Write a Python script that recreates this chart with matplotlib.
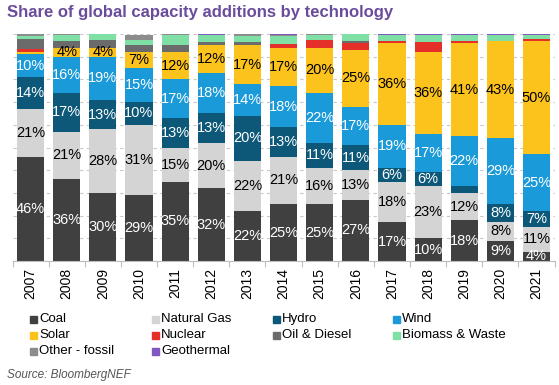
import matplotlib
matplotlib.use("Agg")
import matplotlib.pyplot as plt
from matplotlib.patches import Rectangle
import numpy as np

plt.rcParams['font.family'] = ['Liberation Sans', 'DejaVu Sans']

years = ["2007", "2008", "2009", "2010", "2011", "2012", "2013", "2014",
         "2015", "2016", "2017", "2018", "2019", "2020", "2021"]

coal    = [46, 36, 30, 29, 35, 32, 22, 25, 25, 27, 17, 10, 18, 9, 4]
gas     = [21, 21, 28, 31, 15, 20, 22, 21, 16, 13, 18, 23, 12, 8, 11]
hydro   = [14, 17, 13, 10, 13, 13, 20, 13, 11, 11, 6, 6, 3, 8, 7]
wind    = [10, 16, 19, 15, 17, 18, 14, 18, 22, 17, 19, 17, 22, 29, 25]
solar   = [1.2, 4, 4, 7, 12, 12, 17, 17, 20, 25, 36, 36, 41, 43, 50]
nuclear = [1.2, 0, 0, 0, 0, 0, 0, 1.5, 3.5, 3, 1, 4.5, 1, 0, 0.6]
oil     = [4.3, 3, 3.5, 3, 3, 1.5, 1.5, 0, 0, 1, 0, 0, 0, 0, 0]
biomass = [1.3, 2.5, 2.5, 2.5, 4.5, 3, 2.5, 3.5, 2, 3, 2.5, 3, 2.5, 2.7, 2.1]
other   = [1.0, 0.5, 0, 2, 0.5, 0, 1, 0.5, 0.5, 0, 0, 0, 0, 0, 0]
geo     = [0, 0, 0, 0, 0, 0.5, 0, 0.5, 0, 0, 0.5, 0.5, 0.5, 0.3, 0.3]

series_names = ["Coal", "Natural Gas", "Hydro", "Wind", "Solar", "Nuclear",
                "Oil & Diesel", "Biomass & Waste", "Other - fossil", "Geothermal"]
series_vals = [coal, gas, hydro, wind, solar, nuclear, oil, biomass, other, geo]
colors = ["#404040", "#d4d4d4", "#0d5878", "#1a9ad8", "#fcc31c", "#e5302a",
          "#6b6b6b", "#7fe0a6", "#8c8c8c", "#8158c0"]
label_colors = ["white", "black", "white", "white", "black",
                None, None, None, None, None]

fig = plt.figure(figsize=(5.59, 3.85), dpi=100)
ax = fig.add_axes([12.5/559, 1-261/385, (554.6-12.5)/559, (261-34)/385])

x = np.arange(len(years))
bottom = np.zeros(len(years))
for name, vals, col, lc in zip(series_names, series_vals, colors, label_colors):
    v = np.array(vals, dtype=float)
    ax.bar(x, v, bottom=bottom, width=0.75, color=col, zorder=2)
    if lc is not None:
        for i, val in enumerate(v):
            if val >= 4:
                ax.text(x[i], bottom[i] + val/2, f"{val:.0f}%", ha="center",
                        va="center", color=lc, fontsize=10.5, zorder=3,
                        clip_on=True)
    bottom += v

ax.set_xlim(-0.5, len(years) - 0.5)
ax.set_ylim(0, 100)
ax.set_yticks(np.arange(0, 101, 10))
ax.yaxis.grid(True, linestyle=(0, (3, 3)), color="#c8c8c8", linewidth=0.8, zorder=0)
ax.tick_params(axis="y", left=False, labelleft=False)
ax.set_xticks(x)
ax.set_xticklabels(years, rotation=90, fontsize=10)
ax.tick_params(axis="x", which="major", length=0, pad=5)
ax.set_xticks(np.arange(-0.5, len(years), 1), minor=True)
ax.tick_params(axis="x", which="minor", length=4, color="#bdbdbd", width=0.8)
for s in ["top", "right", "left"]:
    ax.spines[s].set_visible(False)
ax.spines["bottom"].set_color("#bdbdbd")
ax.spines["bottom"].set_linewidth(0.8)

fig.text(7/559, 1-13/385, "Share of global capacity additions by technology",
         fontsize=12, fontweight="bold", color="#6a4c9c", va="center", ha="left")

# legend
col_x = [30, 152, 273, 393]
row_y = [319, 335, 351]
for k, (name, col) in enumerate(zip(series_names, colors)):
    r, c = divmod(k, 4)
    px, py = col_x[c], row_y[r]
    fig.patches.append(Rectangle((px/559, 1-(py+3.5)/385), 7/559, 7/385,
                                 transform=fig.transFigure, color=col))
    fig.text((px+9)/559, 1-py/385, name, fontsize=9.5, va="center", ha="left")

fig.text(7/559, 1-375/385, "Source: BloombergNEF", fontsize=8.5, style="italic",
         color="#555555", va="center", ha="left")

fig.savefig("out.png", dpi=100)
